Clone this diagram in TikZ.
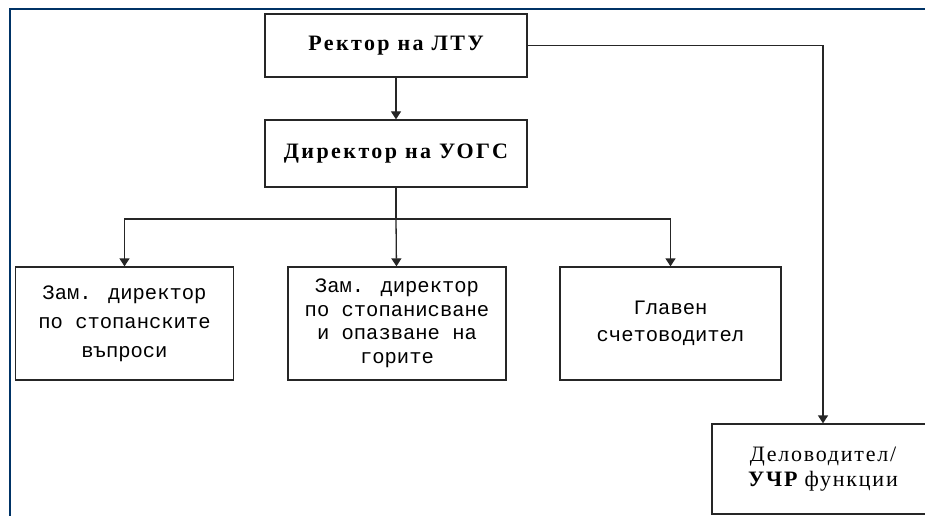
\documentclass[tikz,border=0pt]{standalone}
\usepackage{fontspec}
\setmainfont{Liberation Serif}
\newfontfamily\headfont[LetterSpace=11]{Liberation Serif}
\newfontfamily\unitfont[LetterSpace=8]{Liberation Serif}
\newfontfamily\deskfont{Liberation Mono}
\usetikzlibrary{arrows.meta}
\definecolor{frameColor}{HTML}{003366}
\definecolor{lineColor}{HTML}{262626}

\tikzset{
  orgbox/.style={draw=lineColor, line width=1.3pt, inner sep=0pt, align=center},
  headbox/.style={orgbox, minimum width=262pt, font=\headfont\bfseries\fontsize{22}{26}\selectfont},
  deskbox/.style={orgbox, minimum width=218pt, minimum height=113pt, font=\deskfont\fontsize{20.5}{27}\selectfont},
  link/.style={draw=lineColor, line width=1.3pt},
  linkarrow/.style={link, -{Triangle[width=10pt,length=8pt]}}
}

\begin{document}
\begin{tikzpicture}[x=1pt, y=-1pt]
    \useasboundingbox (0,0) rectangle (925,516);
    \clip (0,0) rectangle (925,516);
    \fill[white] (0,0) rectangle (925,516);
    \draw[frameColor, line width=2.4pt] (925,9) -- (10,9) -- (10,516);
    % top of the chart
    \node[headbox, minimum height=63pt] (rector) at (396,45.5) {Ректор на ЛТУ};
    \node[headbox, minimum height=67pt] (director) at (396,153.5) {Директор на УОГС};
    % deputies
    \node[deskbox, font=\deskfont\fontsize{20.5}{29}\selectfont] (deputyA) at (124.5,323.5)
          {Зам. директор\\по стопанските\\въпроси};
    \node[deskbox, font=\deskfont\fontsize{20.5}{23.5}\selectfont] (deputyB) at (397,323.5)
          {Зам. директор\\по стопанисване\\и опазване на\\горите};
    \node[deskbox, minimum width=221pt] (accountant) at (670.5,323.5) {Главен\\счетоводител};
    \node[orgbox, minimum width=222pt, minimum height=90pt,
          font=\unitfont\fontsize{22}{25}\selectfont] (clerk) at (823,469)
          {Деловодител/\\{\bfseries УЧР} функции};
    % connectors
    \coordinate (fork) at (396,219);
    \draw[linkarrow] (rector) -- (director);
    \draw[link] (director) -- (fork);
    \draw[linkarrow] (fork) -| (deputyA.north);
    \draw[linkarrow] (fork) -- (deputyB);
    \draw[linkarrow] (fork) -| (accountant.north);
    \draw[linkarrow] (rector.east) -| (clerk.north);
\end{tikzpicture}
\end{document}
